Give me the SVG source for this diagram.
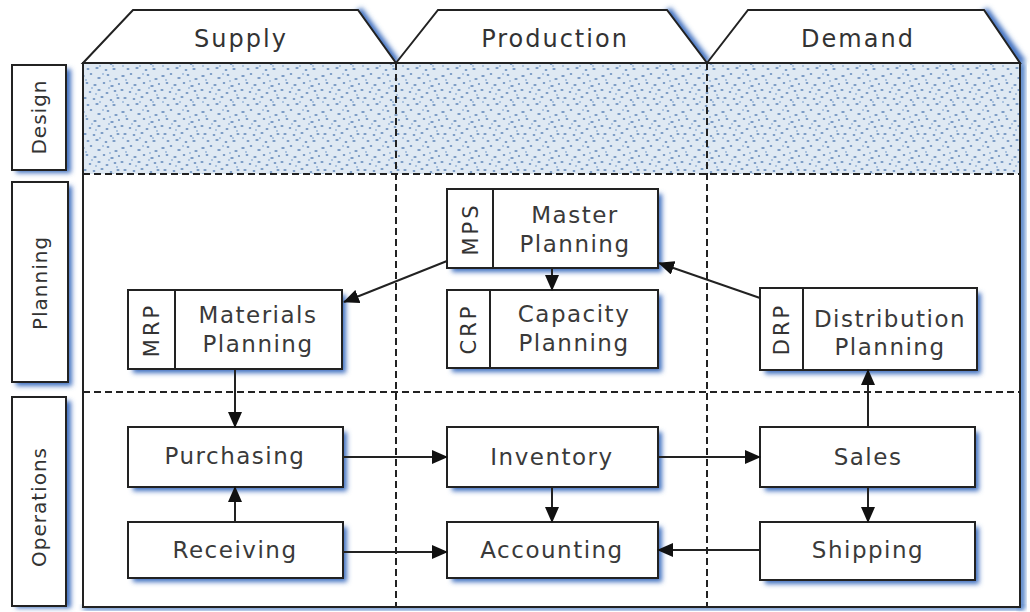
<svg xmlns="http://www.w3.org/2000/svg" width="1030" height="612" viewBox="0 0 1030 612">
<defs>
<style>
.box{fill:#fff;stroke:#222;stroke-width:2}
.sh{fill:#3f70c0;filter:url(#blur)}
.t{font-family:"DejaVu Sans","Liberation Sans",sans-serif;font-size:23px;fill:#3a3a3a;text-anchor:middle;letter-spacing:1.5px}
.h{font-family:"DejaVu Sans","Liberation Sans",sans-serif;font-size:24px;fill:#333;text-anchor:middle;letter-spacing:2px}
.l{font-family:"DejaVu Sans","Liberation Sans",sans-serif;font-size:20px;fill:#333;text-anchor:middle;letter-spacing:1px}
.v{font-family:"DejaVu Sans","Liberation Sans",sans-serif;font-size:21px;fill:#333;text-anchor:middle;letter-spacing:3px}
.dash{stroke:#222;stroke-width:2;stroke-dasharray:7 4;fill:none}
.con{stroke:#222;stroke-width:2;fill:none;marker-end:url(#ah)}
</style>
<filter id="blur" x="-20%" y="-20%" width="140%" height="140%"><feGaussianBlur stdDeviation="2.5"/></filter>
<marker id="ah" markerUnits="userSpaceOnUse" markerWidth="16" markerHeight="14" refX="15" refY="7" orient="auto"><path d="M0,0 L16,7 L0,14 z" fill="#111"/></marker>
<pattern id="stip" width="40" height="36" patternUnits="userSpaceOnUse">
<rect width="40" height="36" fill="#dfe9f3"/>
<g fill="#7496c2">
<ellipse cx="3" cy="4" rx="1.8" ry="0.9"/><ellipse cx="11" cy="2" rx="1.3" ry="1"/><ellipse cx="19" cy="6" rx="1.8" ry="0.9"/><ellipse cx="28" cy="3" rx="1.4" ry="1"/><ellipse cx="36" cy="7" rx="1.7" ry="0.9"/>
<ellipse cx="7" cy="11" rx="1.4" ry="1"/><ellipse cx="15" cy="13" rx="1.7" ry="0.9"/><ellipse cx="24" cy="11" rx="1.3" ry="1"/><ellipse cx="32" cy="14" rx="1.8" ry="0.9"/><ellipse cx="39" cy="12" rx="1.1" ry="0.9"/>
<ellipse cx="2" cy="18" rx="1.6" ry="0.9"/><ellipse cx="10" cy="20" rx="1.3" ry="1"/><ellipse cx="19" cy="18" rx="1.7" ry="0.9"/><ellipse cx="27" cy="21" rx="1.5" ry="1"/><ellipse cx="35" cy="19" rx="1.4" ry="0.9"/>
<ellipse cx="5" cy="26" rx="1.7" ry="0.9"/><ellipse cx="14" cy="27" rx="1.4" ry="1"/><ellipse cx="22" cy="25" rx="1.6" ry="0.9"/><ellipse cx="31" cy="28" rx="1.3" ry="1"/><ellipse cx="38" cy="26" rx="1.6" ry="0.9"/>
<ellipse cx="8" cy="33" rx="1.5" ry="0.9"/><ellipse cx="17" cy="32" rx="1.7" ry="1"/><ellipse cx="26" cy="34" rx="1.4" ry="0.9"/><ellipse cx="34" cy="33" rx="1.7" ry="0.9"/>
</g>
<g fill="#9bb8da">
<circle cx="6" cy="8" r="1"/><circle cx="23" cy="2" r="1"/><circle cx="30" cy="9" r="1"/><circle cx="12" cy="16" r="1"/><circle cx="37" cy="23" r="1"/><circle cx="20" cy="30" r="1"/><circle cx="3" cy="30" r="1"/><circle cx="29" cy="16" r="1"/><circle cx="16" cy="22" r="1"/><circle cx="33" cy="30" r="1"/>
</g>
</pattern>
</defs>

<!-- frame shadow -->
<rect x="1018" y="63" width="7" height="546" fill="#4f7fc6" filter="url(#blur)"/>
<rect x="83" y="605" width="940" height="5" fill="#4f7fc6" filter="url(#blur)"/>

<!-- header tabs -->
<g id="tab-supply">
<path d="M358,10 L396,63" stroke="#3f70c0" stroke-width="9" filter="url(#blur)" fill="none"/>
<path d="M83,63 L133,10 L358,10 L396,63 Z" fill="#fff" stroke="#222" stroke-width="2"/>
<text class="h" x="241" y="47">Supply</text>
</g>
<g id="tab-production">
<path d="M667,10 L707,63" stroke="#3f70c0" stroke-width="9" filter="url(#blur)" fill="none"/>
<path d="M396,63 L438,10 L667,10 L707,63 Z" fill="#fff" stroke="#222" stroke-width="2"/>
<text class="h" x="555" y="47">Production</text>
</g>
<g id="tab-demand">
<path d="M984,10 L1022,63" stroke="#3f70c0" stroke-width="9" filter="url(#blur)" fill="none"/>
<path d="M707,63 L748,10 L984,10 L1020,63 Z" fill="#fff" stroke="#222" stroke-width="2"/>
<text class="h" x="858" y="47">Demand</text>
</g>

<!-- main frame -->
<rect x="83" y="63" width="937" height="544" fill="#fff"/>
<rect x="83" y="63" width="937" height="111" fill="url(#stip)"/>
<rect x="83" y="63" width="937" height="544" fill="none" stroke="#222" stroke-width="2"/>
<line class="dash" x1="83" y1="174" x2="1020" y2="174"/>
<line class="dash" x1="83" y1="392" x2="1020" y2="392"/>
<line class="dash" x1="396" y1="63" x2="396" y2="607"/>
<line class="dash" x1="707" y1="63" x2="707" y2="607"/>

<!-- row labels -->
<g id="row-design">
<rect class="sh" x="16" y="69" width="55" height="104"/>
<rect class="box" x="12" y="65" width="54" height="105"/>
<text class="l" transform="translate(46,117) rotate(-90)">Design</text>
</g>
<g id="row-planning">
<rect class="sh" x="16" y="186" width="56" height="200"/>
<rect class="box" x="12" y="182" width="56" height="200"/>
<text class="l" transform="translate(47,283) rotate(-90)">Planning</text>
</g>
<g id="row-operations">
<rect class="sh" x="16" y="401" width="55" height="207"/>
<rect class="box" x="12" y="397" width="54" height="209"/>
<text class="l" transform="translate(46,507) rotate(-90)">Operations</text>
</g>

<!-- planning nodes -->
<g id="node-mps">
<rect class="sh" x="452" y="194" width="210" height="78"/>
<rect class="box" x="447" y="189" width="211" height="79"/>
<line x1="493" y1="189" x2="493" y2="268" stroke="#222" stroke-width="2"/>
<text class="v" transform="translate(478,229) rotate(-90)">MPS</text>
<text class="t" x="575" y="223">Master</text>
<text class="t" x="575" y="252">Planning</text>
</g>
<g id="node-crp">
<rect class="sh" x="452" y="295" width="210" height="77"/>
<rect class="box" x="447" y="290" width="211" height="78"/>
<line x1="490" y1="290" x2="490" y2="368" stroke="#222" stroke-width="2"/>
<text class="v" transform="translate(476,329) rotate(-90)">CRP</text>
<text class="t" x="574" y="322">Capacity</text>
<text class="t" x="574" y="351">Planning</text>
</g>
<g id="node-mrp">
<rect class="sh" x="133" y="295" width="213" height="78"/>
<rect class="box" x="128" y="290" width="214" height="79"/>
<line x1="175" y1="290" x2="175" y2="369" stroke="#222" stroke-width="2"/>
<text class="v" transform="translate(159,330) rotate(-90)">MRP</text>
<text class="t" x="258" y="323">Materials</text>
<text class="t" x="258" y="352">Planning</text>
</g>
<g id="node-drp">
<rect class="sh" x="765" y="293" width="216" height="81"/>
<rect class="box" x="760" y="288" width="217" height="82"/>
<line x1="803" y1="288" x2="803" y2="370" stroke="#222" stroke-width="2"/>
<text class="v" transform="translate(789,329) rotate(-90)">DRP</text>
<text class="t" x="890" y="327">Distribution</text>
<text class="t" x="890" y="355">Planning</text>
</g>

<!-- operations nodes -->
<g id="node-purchasing">
<rect class="sh" x="133" y="432" width="214" height="59"/>
<rect class="box" x="128" y="427" width="215" height="60"/>
<text class="t" x="235" y="464">Purchasing</text>
</g>
<g id="node-receiving">
<rect class="sh" x="133" y="527" width="214" height="55"/>
<rect class="box" x="128" y="522" width="215" height="56"/>
<text class="t" x="235" y="558">Receiving</text>
</g>
<g id="node-inventory">
<rect class="sh" x="452" y="432" width="210" height="59"/>
<rect class="box" x="447" y="427" width="211" height="60"/>
<text class="t" x="552" y="465">Inventory</text>
</g>
<g id="node-accounting">
<rect class="sh" x="452" y="527" width="210" height="55"/>
<rect class="box" x="447" y="522" width="211" height="56"/>
<text class="t" x="552" y="558">Accounting</text>
</g>
<g id="node-sales">
<rect class="sh" x="765" y="432" width="214" height="59"/>
<rect class="box" x="760" y="427" width="215" height="60"/>
<text class="t" x="868" y="465">Sales</text>
</g>
<g id="node-shipping">
<rect class="sh" x="765" y="527" width="214" height="57"/>
<rect class="box" x="760" y="522" width="215" height="58"/>
<text class="t" x="868" y="558">Shipping</text>
</g>

<!-- connectors -->
<g id="connectors">
<path class="con" d="M447,261 L344,302"/>
<path class="con" d="M552,268 L552,290"/>
<path class="con" d="M760,298 L659,263"/>
<path class="con" d="M235,369 L235,427"/>
<path class="con" d="M235,522 L235,487"/>
<path class="con" d="M343,457 L447,457"/>
<path class="con" d="M343,552 L447,552"/>
<path class="con" d="M552,487 L552,522"/>
<path class="con" d="M658,457 L760,457"/>
<path class="con" d="M868,427 L868,370"/>
<path class="con" d="M868,487 L868,522"/>
<path class="con" d="M760,550 L658,550"/>
</g>
</svg>
